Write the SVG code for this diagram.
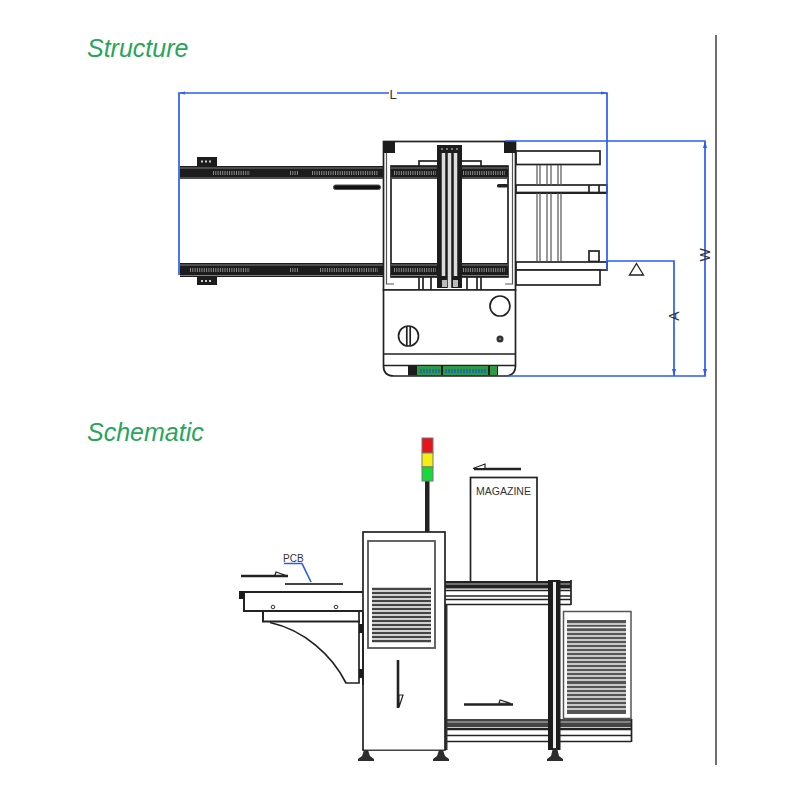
<svg xmlns="http://www.w3.org/2000/svg" width="800" height="800" viewBox="0 0 800 800">
<style>
.t{font-family:"Liberation Sans",Arial,sans-serif;font-style:italic;font-size:25px;fill:#27a55b}
.l{font-family:"Liberation Sans",Arial,sans-serif;fill:#333}
.k{fill:none;stroke:#222;stroke-width:1.7}
.w{fill:#fff;stroke:#222;stroke-width:1.7}
.g{fill:none;stroke:#555;stroke-width:1.2}
.b{fill:none;stroke:#2a5cf5;stroke-width:1.7}
.d{fill:#1c1c1c}
.rd{stroke:#8a8a8a;stroke-width:4;stroke-dasharray:1 1.300;fill:none}
.lv{stroke:#444;stroke-width:2.400;fill:none}
.ar{fill:none;stroke:#222;stroke-width:2.600}
.th{fill:#fff;stroke:#222;stroke-width:1.200}
.f{fill:#2d2d2d}
</style>
<rect width="800" height="800" fill="#fff"/>
<text class="t" x="87" y="57">Structure</text>
<text class="t" x="87" y="441">Schematic</text>
<path d="M716 35V765" stroke="#222" stroke-width="1.300"/>

<g id="structure-machine">
<rect class="d" x="180" y="166" width="203" height="13"/>
<rect class="d" x="180" y="263" width="203" height="14"/>
<path d="M180 168H383M180 178H383M180 265H383M180 275.500H383" stroke="#888" stroke-width=".9"/>
<path class="rd" d="M213 173H250M290 173H298M312 173H378M190 270H250M290 270H298M320 270H378"/>
<rect class="d" x="197" y="157" width="20" height="9"/>
<rect class="d" x="197" y="277" width="20" height="8"/>
<path d="M201 161.500H213M201 281H213" stroke="#ccc" stroke-width="2" stroke-dasharray="2 2"/>
<rect x="333.500" y="185" width="47" height="4.500" rx="2" fill="#111" stroke="#555"/>
<rect class="w" x="516" y="151" width="84" height="13.500"/>
<rect class="w" x="516" y="185" width="91" height="7.500"/>
<path d="M589 185V192.500M599 185V192.500" class="k"/>
<path d="M516 193H607" stroke="#222" stroke-width="2"/>
<path class="g" d="M537 165V185M540 165V185M547 165V185M551 165V185M558 165V185M561 165V185M537 193V261M540 193V261M547 193V261M551 193V261M558 193V261M561 193V261"/>
<rect class="w" x="589" y="251" width="10" height="10.500"/>
<rect class="w" x="516" y="262" width="91" height="8"/>
<rect class="w" x="516" y="270" width="84" height="15"/>
<rect class="w" x="383.500" y="141.500" width="132" height="148.500"/>
<path class="g" d="M386.500 152V284H394M512.500 152V284H505"/>
<rect x="391" y="166" width="117" height="111" fill="#fff" stroke="#222" stroke-width="1.700"/>
<rect class="d" x="391" y="166" width="117" height="13"/>
<rect class="d" x="391" y="263" width="117" height="14"/>
<path class="rd" d="M394 173H436M463 173H505M394 270H436M463 270H505"/>
<path d="M391 168H508M391 178H508M391 265H508M391 275.500H508" stroke="#888" stroke-width=".9"/>
<rect class="w" x="419" y="161" width="62" height="5"/>
<rect x="497" y="184" width="11" height="3.500" rx="1.500" fill="#222"/>
<rect class="d" x="383" y="141" width="12" height="12"/>
<rect class="d" x="504" y="141" width="12" height="12"/>
<path class="k" d="M419 277V290M423 277V290M431 277V290M477 277V290M481 277V290M467 277V290"/>
<rect class="d" x="437" y="145" width="25" height="143"/>
<path d="M443.500 153V276M449.500 153V288M455.500 153V276" stroke="#ddd" stroke-width="3.500"/>
<path d="M441 149H458" stroke="#777" stroke-width="2" stroke-dasharray="2 3"/>
<rect x="442" y="280" width="5" height="7" fill="#bbb"/><rect x="453" y="280" width="5" height="7" fill="#bbb"/>
</g>

<g id="structure-base">
<path class="w" d="M383.500 290H515.500V366Q515.500 376 505 376H394Q383.500 376 383.500 366Z"/>
<path class="k" d="M383.500 354H515.500M383.500 365.500H515.500"/>
<circle class="w" cx="500" cy="306" r="10"/>
<circle class="w" cx="408.500" cy="336" r="10"/>
<path class="k" d="M406.800 326V346M410.200 326V346"/>
<circle cx="500" cy="339" r="3.500" fill="#333"/><circle cx="500" cy="339" r="1" fill="#888"/>
<rect class="d" x="408" y="366" width="90" height="9.500"/>
<rect x="417" y="366" width="24" height="9" fill="#2f9a46"/>
<rect x="443" y="366" width="45" height="9" fill="#2f9a46"/>
<rect x="490" y="366" width="7" height="9" fill="#2f9a46"/>
<path d="M420 371H440M445 371H486" stroke="#1d6f9e" stroke-width="4" stroke-dasharray="2 1"/>
</g>

<g id="dimensions">
<path class="b" d="M179 275V93H607V270"/>
<path class="b" d="M505 141H705V376H506"/>
<path class="b" d="M607 261H674V376"/>
<path fill="#2a5cf5" d="M179 93l6 -1.500v3zM607 93l-6 -1.500v3zM674 376l-2 -7h4zM705 376l-2 -7h4zM705 141l-2 7h4z"/>
<path fill="#fff" stroke="#222" stroke-width="1.300" d="M636.500 263.500L643.500 275H629.500Z"/>
<rect x="389" y="86" width="8" height="14" fill="#fff"/>
<text class="l" font-size="13" text-anchor="middle" x="393" y="98.500">L</text>
<text class="l" font-size="14" text-anchor="middle" transform="translate(679 316) rotate(-90)">A</text>
<text class="l" font-size="14" text-anchor="middle" transform="translate(710 255) rotate(-90)">W</text>
</g>

<g id="signal-tower">
<rect x="425" y="481" width="4.500" height="51" fill="#222"/>
<rect x="422" y="438" width="11" height="15" fill="#e8141c" stroke="#777"/>
<rect x="422" y="453" width="11" height="14" fill="#f5ee12" stroke="#777"/>
<rect x="422" y="467" width="11" height="14" fill="#19d83a" stroke="#777"/>
</g>

<g id="magazine">
<rect class="w" x="470.500" y="477.500" width="66.500" height="106"/>
<text class="l" font-size="10.500" text-anchor="middle" x="503.500" y="494.500">MAGAZINE</text>
</g>

<g id="lift-frame">
<rect x="445" y="581" width="126" height="7.500" fill="#222"/>
<path d="M445 584H571" stroke="#888" stroke-width="1.500"/>
<path class="k" d="M445 590.500H571M445 596H571M445 599.500H571M445 604.500H571M571 580V605"/>
<rect x="445" y="719" width="186" height="8" fill="#444"/>
<path d="M445 722H631" stroke="#999" stroke-width="1.500"/>
<path d="M445 729H631" stroke="#222" stroke-width="2.500"/>
<path class="k" d="M445 735.500H631M445 741.500H631M631.500 719V742"/>
<path d="M446 604V750" stroke="#333" stroke-width="3"/>
<rect class="d" x="548" y="580" width="12.500" height="170"/>
<rect x="553" y="582" width="3" height="166" fill="#eee"/>
<path class="f" d="M553 748h4l2 8l4 3v2h-16v-2l4 -3z"/>
<rect x="563.500" y="611.500" width="67.500" height="107" fill="#fff" stroke="#555" stroke-width="1.500"/>
<rect x="567" y="620" width="59" height="94" fill="#555"/>
<path stroke="#eee" stroke-width="1.300" d="M567 624H626M567 627.500H626M567 632H626M567 636H626M567 640H626M567 644H626M567 648H626M567 652H626M567 656H626M567 660H626M567 664H626M567 668H626M567 672H626M567 676H626M567 680H626M567 685H626M567 689H626M567 693H626M567 697H626M567 701H626M567 705H626M567 709H626"/>
</g>

<g id="main-cabinet">
<rect class="w" x="363" y="532" width="82" height="218"/>
<rect x="368" y="541" width="67" height="107" fill="#fff" stroke="#555" stroke-width="1.800"/>
<path class="lv" d="M372 589H431M372 593H431M372 597H431M372 601H431M372 605H431M372 609H431M372 613H431M372 617H431M372 621H431M372 625H431M372 629H431M372 633H431M372 637H431M372 641H431"/>
<path d="M364 749.500H444" stroke="#c9908c" stroke-width="1"/>
<path class="f" d="M364 750h4l2 6l4 3v2h-16v-2l4 -3z"/>
<path class="f" d="M439 750h4l2 6l4 3v2h-16v-2l4 -3z"/>
</g>

<g id="infeed-conveyor">
<path style="fill:none;stroke:#222;stroke-width:2" d="M240 592H363M244 592V611H363M263 611V621.500H360"/>
<rect class="d" x="239" y="591" width="5" height="8"/>
<circle cx="273" cy="607" r="1.800" fill="#fff" stroke="#333"/>
<circle cx="336" cy="607" r="1.800" fill="#fff" stroke="#333"/>
<path class="k" d="M270 622.500C304 630 332 655 346 683H359V612M363 612V685"/>
<rect class="d" x="359" y="624" width="4" height="9"/>
<rect class="d" x="359" y="669" width="4" height="9"/>
<path d="M285 584H343" stroke="#444" stroke-width="2"/>
</g>

<g id="pcb-label">
<path class="b" d="M284 563.500H302L311 582"/>
<text class="l" font-size="10" x="283" y="562">PCB</text>
</g>

<g id="flow-arrows">
<path class="ar" d="M241 576H288"/><path class="th" d="M275 575l1 -3l10 3.500z"/>
<path class="ar" d="M474 469H521"/><path class="th" d="M473 468.500l12 -4.500v4.500z"/>
<path class="ar" d="M464 704.500H513"/><path class="th" d="M499 703l1 -3l11 3.500z"/>
<path class="ar" d="M398 660V708"/><path class="th" d="M399 707V695h4z"/>
</g>
</svg>
